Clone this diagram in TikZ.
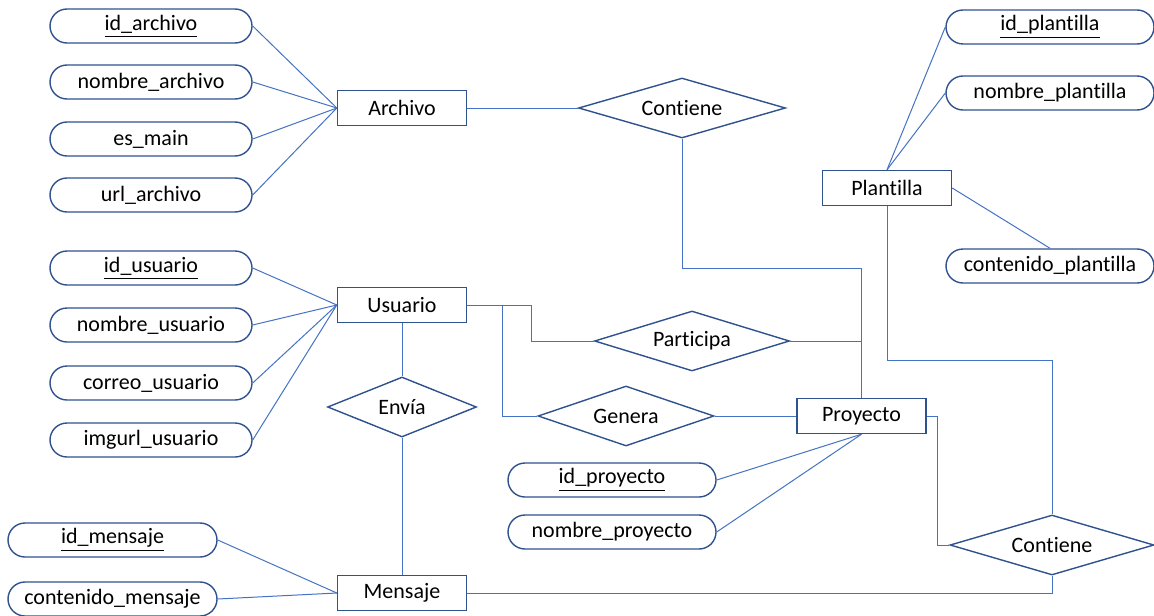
\documentclass[tikz,border=0pt]{standalone}
\usepackage{fontspec}
\setmainfont{Carlito}[Ligatures=NoCommon]
\usetikzlibrary{shapes.geometric}
\definecolor{linea}{HTML}{4472C4}
\definecolor{borde}{HTML}{2F528F}
\tikzset{
  atributo/.style={draw=borde, line width=0.7pt, rounded corners=8.5pt, minimum width=101pt, minimum height=17pt, inner sep=0pt},
  entidad/.style={draw=borde, line width=0.7pt, minimum width=64.5pt, minimum height=17.5pt, inner sep=0pt},
  relacion/.style={draw=borde, line width=0.7pt, shape=diamond, aspect=3, minimum height=30pt, inner sep=0pt},
  enlace/.style={draw=linea, line width=0.5pt}
}
\begin{document}
\begin{tikzpicture}[x=0.5pt, y=-0.5pt, font=\fontsize{11}{13}\selectfont]
\useasboundingbox (0,0) rectangle (1154,615);

\node[entidad] (archivo) at (402,108) {Archivo};
\node[entidad] (usuario) at (402,305) {Usuario};
\node[entidad] (mensaje) at (402,593) {Mensaje};
\node[entidad] (plantilla) at (887,188) {Plantilla};
\node[entidad] (proyecto) at (861.5,416) {Proyecto};

\node[relacion, minimum width=103.5pt] (contiene) at (682,108) {Contiene};
\node[relacion, minimum width=97.5pt] (participa) at (692,341) {Participa};
\node[relacion, minimum width=88pt] (genera) at (626,416) {Genera};
\node[relacion, minimum width=74.5pt, aspect=2.5] (envia) at (402,407) {Envía};
\node[relacion, minimum width=102pt] (contieneb) at (1052,545) {Contiene};

\node[atributo] (idarchivo) at (151,26) {\underline{id\_archivo}};
\node[atributo] (nombrearchivo) at (151,82) {nombre\_archivo};
\node[atributo] (esmain) at (151,139) {es\_main};
\node[atributo] (urlarchivo) at (151,195) {url\_archivo};

\node[atributo] (idusuario) at (151,268) {\underline{id\_usuario}};
\node[atributo] (nombreusuario) at (151,325) {nombre\_usuario};
\node[atributo] (correousuario) at (151,383) {correo\_usuario};
\node[atributo] (imgurlusuario) at (151,440) {imgurl\_usuario};

\node[atributo, minimum width=104.5pt] (idmensaje) at (112.5,540) {\underline{id\_mensaje}};
\node[atributo, minimum width=104.5pt] (contenidomensaje) at (112.5,599) {contenido\_mensaje};

\node[atributo, minimum width=104pt] (idproyecto) at (612,480) {\underline{id\_proyecto}};
\node[atributo, minimum width=104pt] (nombreproyecto) at (612,532) {nombre\_proyecto};

\node[atributo, minimum width=104pt] (idplantilla) at (1050,27) {\underline{id\_plantilla}};
\node[atributo, minimum width=104pt] (nombreplantilla) at (1050,93) {nombre\_plantilla};
\node[atributo, minimum width=104pt] (contenidoplantilla) at (1050,266) {contenido\_plantilla};

\draw[enlace] (idarchivo.east) -- (archivo.west);
\draw[enlace] (nombrearchivo.east) -- (archivo.west);
\draw[enlace] (esmain.east) -- (archivo.west);
\draw[enlace] (urlarchivo.east) -- (archivo.west);

\draw[enlace] (idusuario.east) -- (usuario.west);
\draw[enlace] (nombreusuario.east) -- (usuario.west);
\draw[enlace] (correousuario.east) -- (usuario.west);
\draw[enlace] (imgurlusuario.east) -- (usuario.west);

\draw[enlace] (idmensaje.east) -- (mensaje.west);
\draw[enlace] (contenidomensaje.east) -- (mensaje.west);

\draw[enlace] (idproyecto.east) -- (proyecto.south);
\draw[enlace] (nombreproyecto.east) -- (proyecto.south);

\draw[enlace] (plantilla.north) -- (idplantilla.west);
\draw[enlace] (plantilla.north) -- (nombreplantilla.west);
\draw[enlace] (plantilla.east) -- (contenidoplantilla.north);

\draw[enlace] (archivo.east) -- (contiene.west);
\draw[enlace] (contiene.south) -- ++(0,130) -| (proyecto.north);
\draw[enlace] (participa.east) -- (participa.east -| proyecto.north);
\draw[enlace] (usuario.east) -- ++(64,0) |- (participa.west);
\draw[enlace] (usuario.east) -- ++(35,0) |- (genera.west);
\draw[enlace] (genera.east) -- (proyecto.west);
\draw[enlace] (usuario.south) -- (envia.north);
\draw[enlace] (envia.south) -- (mensaje.north);
\draw[enlace] (plantilla.south) -- ++(0,154) -| (contieneb.north);
\draw[enlace] (proyecto.east) -- ++(11,0) |- (contieneb.west);
\draw[enlace] (contieneb.south) |- (mensaje.east);
\end{tikzpicture}
\end{document}
